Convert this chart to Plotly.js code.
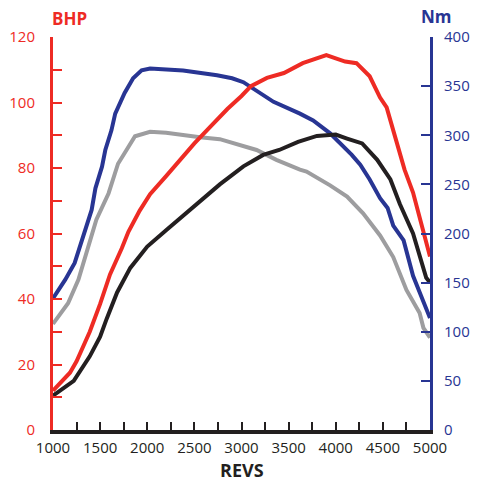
<!DOCTYPE html>
<html>
<head>
<meta charset="utf-8">
<script src="https://cdn.plot.ly/plotly-3.0.1.min.js"></script>
<style>html,body{margin:0;padding:0;background:#fff;}#chart{width:477px;height:479px;}</style>
</head>
<body>
<div id="chart"></div>
<script>
// BHP curves (left axis)
const redRpm = [1000,1100,1180,1250,1390,1500,1605,1730,1800,1920,2030,2200,2500,2650,2850,3000,3100,3270,3450,3650,3800,3900,4000,4100,4220,4360,4470,4540,4630,4730,4820,4930,5000];
const redBhp = [12,15,17.5,21,30,38.5,47.5,55.5,60.5,67,72,77.5,87.5,92,98,102,105,107.5,109,112,113.5,114.5,113.5,112.5,112,108,101.5,98.5,89.5,79.5,72.5,61,53];

const blackRpm = [1000,1100,1220,1390,1500,1570,1680,1820,2000,2200,2490,2770,3020,3230,3400,3600,3800,4000,4120,4280,4440,4580,4680,4820,4960,5000];
const blackBhp = [10.5,12.5,15,22.5,28.5,34,42,49.5,56,61,68,75,80.5,84,85.5,88,89.8,90.2,89,87.5,82.5,76.5,69,60,46.5,45];

// Torque curves (right axis, Nm)
const blueRpm = [1000,1130,1230,1320,1410,1450,1520,1555,1620,1660,1760,1850,1940,2030,2380,2740,2900,3020,3200,3340,3620,3760,3940,4050,4170,4260,4360,4470,4550,4610,4720,4820,4930,5000];
const blueNm = [134,153,170,197,224,246,268,285,305,322,343,358,366,368,366,361,358,354,343,334,322,315,302,292,280,270,255,236,226,208,193,157,132,114];

const grayRpm = [1000,1160,1270,1360,1460,1590,1690,1780,1870,2030,2200,2560,2770,3160,3370,3620,3690,3940,4120,4290,4470,4610,4750,4890,4930,5000];
const grayNm = [108,129,153,183,214,241,271,285,299,303.5,302.5,298,296,285,275,265,263,249,237.5,220.5,198,176,142.5,119,104,94];

// Tick labels
const xTicks = [1000,1250,1500,1750,2000,2250,2500,2750,3000,3250,3500,3750,4000,4250,4500,4750,5000];
const xTickText = ['1000','','1500','','2000','','2500','','3000','','3500','','4000','','4500','','5000'];
const bhpTicks = [0,10,20,30,40,50,60,70,80,90,100,110,120];
const bhpTickText = ['0','','20','','40','','60','','80','','100','','120'];
const nmTicks = [0,50,100,150,200,250,300,350,400];

const RED = '#ee2b24', BLUE = '#283593', BLACK = '#231f20', GRAY = '#9d9d9f';
const FONT = 'Open Sans, Noto Sans, sans-serif';

const traces = [
  {x: grayRpm, y: grayNm, yaxis: 'y', mode: 'lines', line: {color: GRAY, width: 4}},
  {x: blueRpm, y: blueNm, yaxis: 'y', mode: 'lines', line: {color: BLUE, width: 4}},
  {x: blackRpm, y: blackBhp, yaxis: 'y2', mode: 'lines', line: {color: BLACK, width: 4}},
  {x: redRpm, y: redBhp, yaxis: 'y2', mode: 'lines', line: {color: RED, width: 4}}
];

const layout = {
  width: 477, height: 479,
  margin: {l: 53, r: 47, t: 37, b: 49, pad: 0},
  paper_bgcolor: '#fff', plot_bgcolor: '#fff',
  showlegend: false,
  font: {family: FONT},
  xaxis: {
    range: [1000, 5000], showgrid: false, zeroline: false,
    showline: true, linecolor: BLACK, linewidth: 4,
    ticks: 'inside', ticklen: 8, tickwidth: 2, tickcolor: BLACK,
    tickmode: 'array', tickvals: xTicks, ticktext: xTickText,
    tickfont: {family: FONT, size: 15, color: BLACK},
    ticklabelstandoff: 1
  },
  yaxis: {
    side: 'right', range: [0, 400], showgrid: false, zeroline: false,
    showline: true, linecolor: BLUE, linewidth: 3,
    ticks: 'inside', ticklen: 9, tickwidth: 2, tickcolor: BLUE,
    tickmode: 'array', tickvals: nmTicks,
    tickfont: {family: FONT, size: 15, color: BLUE},
    ticklabelstandoff: 8
  },
  yaxis2: {
    overlaying: 'y', side: 'left', range: [0, 120], showgrid: false, zeroline: false,
    showline: true, linecolor: RED, linewidth: 3,
    ticks: 'inside', ticklen: 9, tickwidth: 2, tickcolor: RED,
    tickmode: 'array', tickvals: bhpTicks, ticktext: bhpTickText,
    tickfont: {family: FONT, size: 15, color: RED},
    ticklabelstandoff: 12
  },
  annotations: [
    {text: '<b>REVS</b>', xref: 'paper', yref: 'paper', x: 0.5, y: -0.103, showarrow: false,
     font: {family: FONT, size: 18, color: BLACK}, xanchor: 'center', yanchor: 'middle'},
    {text: '<b>BHP</b>', xref: 'paper', yref: 'paper', x: 0.045, y: 1.048, showarrow: false,
     font: {family: FONT, size: 17, color: RED}, xanchor: 'center', yanchor: 'middle'},
    {text: '<b>Nm</b>', xref: 'paper', yref: 'paper', x: 1.016, y: 1.051, showarrow: false,
     font: {family: FONT, size: 17, color: BLUE}, xanchor: 'center', yanchor: 'middle'},
    {text: '<b>Boost</b>', xref: 'paper', yref: 'paper', x: -0.176, y: 0.83, showarrow: false,
     textangle: -90, font: {family: FONT, size: 22, color: BLACK}, xanchor: 'center', yanchor: 'middle'}
  ]
};

Plotly.newPlot('chart', traces, layout, {staticPlot: true, displayModeBar: false});
</script>
</body>
</html>
